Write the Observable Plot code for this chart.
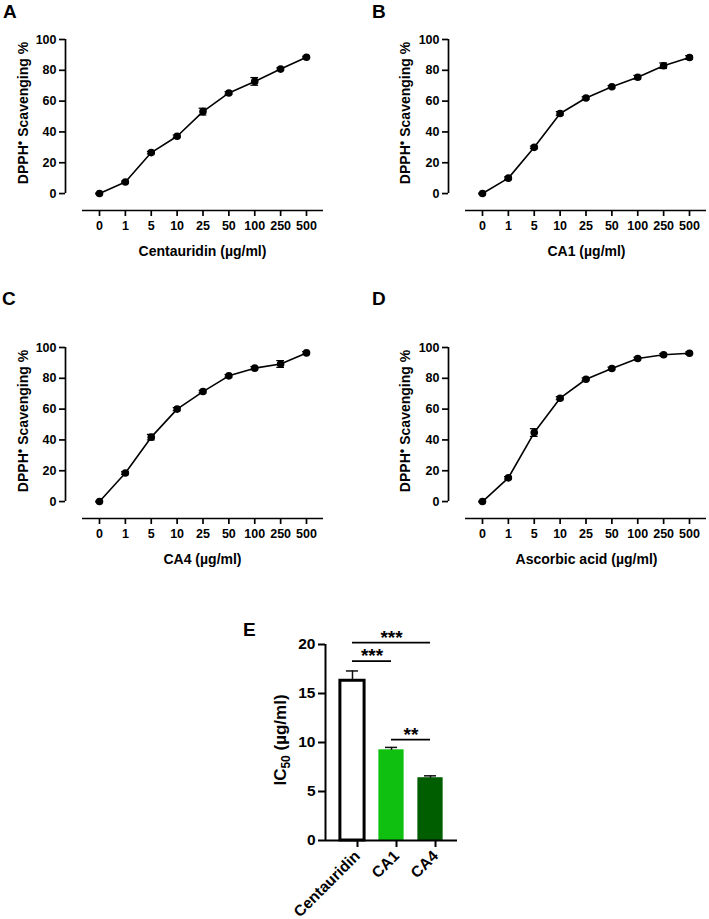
<!DOCTYPE html>
<html><head><meta charset="utf-8">
<script src="https://cdn.jsdelivr.net/npm/d3@7"></script>
<script src="https://cdn.jsdelivr.net/npm/@observablehq/plot@0.6"></script>
<style>
body{margin:0;background:#fff;}
#fig{position:relative;width:709px;height:919px;overflow:hidden;background:#fff;}
#fig > svg{position:absolute;}
</style></head><body><div id="fig"></div>
<script>
// ---------- data ----------
const doses = ["0","1","5","10","25","50","100","250","500"];
const centauridinMean = [0, 7.5, 26.6, 37.2, 53.2, 65.3, 72.8, 80.8, 88.5];
const centauridinErr  = [0.3, 0.6, 0.8, 0.8, 2.2, 0.8, 2.5, 0.8, 0.6];
const ca1Mean = [0, 10, 30, 52, 62, 69.3, 75.5, 83, 88.3];
const ca1Err  = [0.3, 0.8, 0.8, 1.2, 0.8, 0.8, 1.2, 1.8, 1.2];
const ca4Mean = [0, 18.5, 41.8, 60, 71.4, 81.6, 86.6, 89.3, 96.5];
const ca4Err  = [0.3, 0.8, 1.8, 1.0, 0.8, 0.8, 1.0, 2.2, 0.8];
const ascMean = [0, 15.4, 44.8, 67.1, 79.4, 86.4, 92.9, 95.3, 96.3];
const ascErr  = [0.3, 0.8, 2.5, 1.0, 0.8, 0.8, 0.8, 0.8, 0.8];
const yTicksLine = [0, 20, 40, 60, 80, 100];

const ic50Names = ["Centauridin", "CA1", "CA4"];
const ic50Mean  = [16.3, 9.2, 6.35];
const ic50Err   = [1.0, 0.3, 0.25];
const ic50Fill  = ["#ffffff", "#10c010", "#005e00"];
const ic50Stroke = ["#000000", "#10c010", "#005e00"];
const yTicksIC = [0, 5, 10, 15, 20];
const sigFrom  = [0, 0, 1];
const sigTo    = [2, 1, 2];
const sigLevel = [20.2, 18.3, 10.3];
const sigText  = ["***", "***", "**"];

// ---------- helpers ----------
const FONT = "'Liberation Sans', Arial, Helvetica, sans-serif";
const fig = document.getElementById("fig");

function place(svg, left, top) {
  svg.style.left = left + "px";
  svg.style.top = top + "px";
  fig.appendChild(svg);
}

const X_MIN = -1.314, X_MAX = 8.657, X_AX0 = -0.657, Y_MIN = -11;

function linePanel(mean, err, left, top, width, marginRight) {
  const rows = mean.map((m, i) => ({i, m, e: err[i]}));
  const svg = Plot.plot({
    width, height: 260,
    marginLeft: 65, marginRight, marginTop: 39, marginBottom: 50,
    x: {domain: [X_MIN, X_MAX], axis: null},
    y: {domain: [Y_MIN, 100], axis: null},
    style: {fontFamily: FONT, fontSize: "12.5px", fontWeight: "bold", color: "#000", background: "transparent", overflow: "visible"},
    marks: [
      Plot.axisX({ticks: d3.range(doses.length), tickFormat: i => doses[i], tickSize: 6, tickPadding: 5, label: null, strokeWidth: 1.7, fontSize: 12.5, fontWeight: "bold"}),
      Plot.axisY({ticks: yTicksLine, tickSize: 6, tickPadding: 3, label: null, strokeWidth: 1.7, fontSize: 12.5, fontWeight: "bold"}),
      Plot.ruleX([X_MIN], {y1: 0, y2: 100, strokeWidth: 1.7, stroke: "#000"}),
      Plot.ruleY([Y_MIN], {x1: X_AX0, x2: X_MAX, strokeWidth: 1.7, stroke: "#000"}),
      Plot.line(rows, {x: "i", y: "m", stroke: "#000", strokeWidth: 1.6}),
      Plot.ruleX(rows, {x: "i", y1: d => d.m - d.e, y2: d => d.m + d.e, stroke: "#000", strokeWidth: 1.2}),
      Plot.ruleY(rows, {y: d => d.m - d.e, x1: d => d.i - 0.15, x2: d => d.i + 0.15, stroke: "#000", strokeWidth: 1.2}),
      Plot.ruleY(rows, {y: d => d.m + d.e, x1: d => d.i - 0.15, x2: d => d.i + 0.15, stroke: "#000", strokeWidth: 1.2}),
      Plot.dot(rows, {x: "i", y: "m", r: 3.8, fill: "#000"})
    ]
  });
  place(svg, left, top);
}

linePanel(centauridinMean, centauridinErr, 0, 0, 330, 7);
linePanel(ca1Mean, ca1Err, 383, 0, 326, 3);
linePanel(ca4Mean, ca4Err, 0, 308, 330, 7);
linePanel(ascMean, ascErr, 383, 308, 326, 3);

// ---------- bar panel E ----------
const EX_MIN = -0.692, EX_MAX = 2.692, HALF = 0.31;
const bars = ic50Names.map((n, i) => ({i, n, m: ic50Mean[i], e: ic50Err[i], f: ic50Fill[i], s: ic50Stroke[i]}));
const sig = sigFrom.map((a, k) => ({a, b: sigTo[k], y: sigLevel[k], t: sigText[k]}));
const eSvg = Plot.plot({
  width: 230, height: 319,
  marginLeft: 85, marginRight: 13, marginTop: 44, marginBottom: 79,
  x: {domain: [EX_MIN, EX_MAX], axis: null},
  y: {domain: [0, 20], axis: null},
  style: {fontFamily: FONT, fontSize: "15px", fontWeight: "bold", color: "#000", background: "transparent", overflow: "visible"},
  marks: [
    Plot.rectY(bars, {x1: d => d.i - HALF, x2: d => d.i + HALF, y1: 0, y2: "m", fill: "f", stroke: "s", strokeWidth: d => d.i === 0 ? 3 : 1}),
    Plot.ruleX(bars, {x: "i", y1: "m", y2: d => d.m + d.e, stroke: "#111", strokeWidth: 1.5}),
    Plot.ruleY(bars, {y: d => d.m + d.e, x1: d => d.i - 0.155, x2: d => d.i + 0.155, stroke: "#111", strokeWidth: 1.5}),
    Plot.axisX({ticks: [0, 1, 2], tickFormat: i => ic50Names[i], tickRotate: -45, tickSize: 7, tickPadding: 6, dx: 5, label: null, strokeWidth: 2, fontSize: 15.5, fontWeight: "bold"}),
    Plot.axisY({ticks: yTicksIC, tickSize: 7, tickPadding: 3, label: null, strokeWidth: 2, fontSize: 15.5, fontWeight: "bold"}),
    Plot.ruleX([EX_MIN], {y1: 0, y2: 20, strokeWidth: 2, stroke: "#000"}),
    Plot.ruleY([0], {strokeWidth: 2, stroke: "#000"}),
    Plot.ruleY(sig, {y: "y", x1: "a", x2: "b", stroke: "#000", strokeWidth: 1.8}),
    Plot.text(sig, {x: d => (d.a + d.b) / 2, y: "y", text: "t", lineAnchor: "bottom", dy: 1, fontSize: 19, fontWeight: "bold", fill: "#000"})
  ]
});
place(eSvg, 240, 600);

// ---------- overlay texts (panel letters, axis titles) ----------
const ov = d3.select(fig).append("svg")
  .attr("width", 709).attr("height", 919)
  .style("left", "0px").style("top", "0px")
  .style("font-family", FONT).style("font-weight", "bold");

const letters = [["A", 3, 18], ["B", 372, 18], ["C", 2, 305], ["D", 372, 305], ["E", 243, 636]];
letters.forEach(([t, x, y]) => ov.append("text").attr("x", x).attr("y", y).attr("font-size", 19).text(t));

const xTitles = [["Centauridin (\u00b5g/ml)", 202.5, 256], ["CA1 (\u00b5g/ml)", 586.5, 256],
                 ["CA4 (\u00b5g/ml)", 202.5, 564], ["Ascorbic acid (\u00b5g/ml)", 586.5, 564]];
xTitles.forEach(([t, x, y]) => ov.append("text").attr("x", x).attr("y", y).attr("font-size", 14).attr("text-anchor", "middle").text(t));

const yTitlePos = [[28, 113], [410, 113], [28, 421], [410, 421]];
yTitlePos.forEach(([x, y]) => {
  const t = ov.append("text").attr("transform", `translate(${x},${y}) rotate(-90)`).attr("font-size", 14).attr("text-anchor", "middle");
  t.append("tspan").text("DPPH");
  t.append("tspan").attr("font-size", 13).attr("dy", -4).text("\u2022");
  t.append("tspan").attr("dy", 4).text(" Scavenging %");
});

const ic = ov.append("text").attr("transform", "translate(286,740) rotate(-90)").attr("font-size", 17).attr("text-anchor", "middle");
ic.append("tspan").text("IC");
ic.append("tspan").attr("font-size", 12).attr("dy", 4).text("50");
ic.append("tspan").attr("dy", -4).text(" (\u00b5g/ml)");
</script>
</body></html>
